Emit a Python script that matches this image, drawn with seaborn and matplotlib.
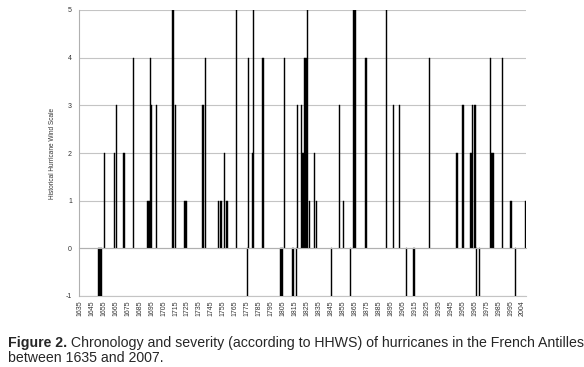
import matplotlib
matplotlib.use("Agg")
import matplotlib.pyplot as plt
import seaborn as sns
import pandas as pd

# Data (year of hurricane, HHWS severity)
years = [1651, 1652, 1653, 1656, 1664, 1666, 1672, 1680,
         1692, 1693, 1694, 1695, 1699, 1713, 1715, 1723, 1724,
         1738, 1740, 1751, 1753, 1756, 1758, 1766, 1775, 1776,
         1779, 1780, 1788, 1803, 1804, 1806, 1813, 1816, 1817,
         1820, 1821, 1822, 1823, 1824, 1825, 1827, 1831, 1833,
         1845, 1852, 1855, 1861, 1864, 1865, 1874, 1891, 1897,
         1902, 1908, 1914, 1927, 1950, 1955, 1961, 1962, 1963,
         1965, 1966, 1969, 1978, 1979, 1980, 1988, 1995, 1999, 2007]
severity = [-1, -1, -1, 2, 2, 3, 2, 4,
            1, 1, 4, 3, 3, 5, 3, 1, 1,
            3, 4, 1, 1, 2, 1, 5, -1, 4,
            2, 5, 4, -1, -1, 4, -1, -1, 3,
            3, 2, 2, 4, 4, 5, 1, 2, 1,
            -1, 3, 1, -1, 5, 5, 4, 5, 3,
            3, -1, -1, 4, 2, 3, 2, 2, 3,
            3, -1, -1, 4, 2, 2, 4, 1, -1, 1]

tick_years = list(range(1635, 2000, 10)) + [2004]
tick_labels = [str(y) for y in tick_years]
y_ticks = [-1, 0, 1, 2, 3, 4, 5]
y_label = "Historical Hurricane Wind Scale"
caption_bold = "Figure 2."
caption_rest_1 = " Chronology and severity (according to HHWS) of hurricanes in the French Antilles"
caption_line_2 = "between 1635 and 2007."

sns.set_style("white")
plt.rcParams["font.family"] = ["Liberation Sans", "DejaVu Sans"]

fig = plt.figure(figsize=(5.84, 3.67), dpi=100)
ax = fig.add_axes([79 / 584, 1 - 296 / 367, 447 / 584, 286 / 367])

df = pd.DataFrame({"year": years, "scale": severity})
sns.barplot(data=df, x="year", y="scale", native_scale=True, color="black",
            saturation=1, errorbar=None, width=1.0, linewidth=0.3,
            edgecolor="black", ax=ax)

ax.set_xlim(1634.5, 2007.5)
ax.set_ylim(-1, 5)
ax.set_yticks(y_ticks)
ax.set_yticklabels([str(v) for v in y_ticks])
ax.grid(axis="y", color="#c4c4c4", lw=0.8)
ax.grid(axis="x", visible=False)
ax.set_axisbelow(True)

for s in ["top", "right"]:
    ax.spines[s].set_visible(False)
ax.spines["left"].set_color("#b0b0b0")
ax.spines["left"].set_linewidth(0.8)
ax.spines["bottom"].set_position(("data", 0))
ax.spines["bottom"].set_color("#b0b0b0")
ax.spines["bottom"].set_linewidth(0.8)

ax.set_xticks(tick_years)
ax.tick_params(axis="x", length=2.5, width=0.6, color="#a0a0a0",
               direction="out", labelbottom=False)
ax.tick_params(axis="y", length=0, labelsize=5, pad=5, labelcolor="#333333")

sec = ax.secondary_xaxis("bottom")
sec.set_xticks(tick_years, labels=tick_labels, rotation=90, fontsize=5,
               color="#333333")
sec.tick_params(length=0, pad=3)
sec.spines["bottom"].set_color("#c4c4c4")
sec.spines["bottom"].set_linewidth(0.8)

ax.set_xlabel("")
ax.set_ylabel(y_label, fontsize=4.7, labelpad=7, color="#333333")

# Caption
fs = 10.2
t1 = fig.text(8 / 584, 1 - 347 / 367, caption_bold, fontsize=fs,
              fontweight="bold", ha="left", va="baseline")
fig.canvas.draw()
bb = t1.get_window_extent(renderer=fig.canvas.get_renderer())
x_next = bb.x1 / fig.bbox.width
fig.text(x_next, 1 - 347 / 367, caption_rest_1, fontsize=fs,
         ha="left", va="baseline")
fig.text(8 / 584, 1 - 362 / 367, caption_line_2, fontsize=fs,
         ha="left", va="baseline")

fig.savefig("out.png", dpi=100)
